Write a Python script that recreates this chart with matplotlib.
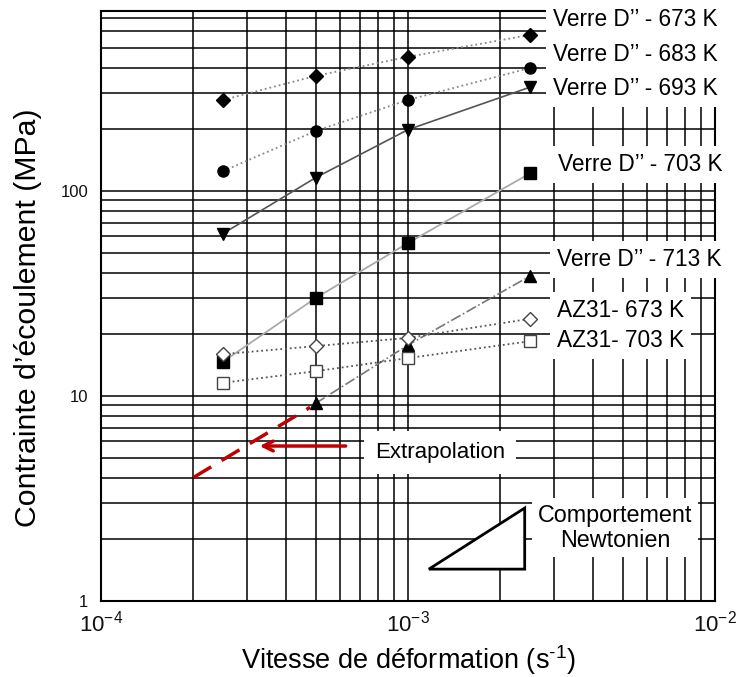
import matplotlib
matplotlib.use("Agg")
import matplotlib.pyplot as plt
from matplotlib.ticker import FixedLocator, FuncFormatter
from matplotlib.patches import Polygon

plt.rcParams['font.family'] = ['Liberation Sans', 'DejaVu Sans']
plt.rcParams['mathtext.fontset'] = 'custom'
plt.rcParams['mathtext.rm'] = 'Liberation Sans'
plt.rcParams['mathtext.it'] = 'Liberation Sans:italic'

# strain rates (s^-1)
rates = [2.5e-4, 5e-4, 1e-3, 2.5e-3]
rates_713 = [5e-4, 1e-3, 2.5e-3]

# flow stress (MPa)
verre_673 = [278, 364, 451, 577]
verre_683 = [125, 196, 278, 398]
verre_693 = [62, 116, 199, 321]
verre_703 = [14.7, 30, 55.7, 122]
verre_713 = [9.2, 17.7, 38.5]
az31_673 = [16.0, 17.5, 19.2, 23.8]
az31_703 = [11.6, 13.2, 15.3, 18.5]

labels = ["Verre D’’ - 673 K", "Verre D’’ - 683 K", "Verre D’’ - 693 K",
          "Verre D’’ - 703 K", "Verre D’’ - 713 K", "AZ31- 673 K", "AZ31- 703 K"]

# extrapolation line and Newtonian slope triangle
extrap_x = [2.0e-4, 4.8e-4]
extrap_y = [4.0, 8.8]
tri_x = [1.17e-3, 2.40e-3, 2.40e-3]
tri_y = [1.43, 2.84, 1.43]

fig = plt.figure(figsize=(7.42, 6.77), dpi=100)
ax = fig.add_axes([0.136, 0.1123, 0.8276, 0.8715])
ax.set_xscale('log')
ax.set_yscale('log')
ax.set_xlim(1e-4, 1e-2)
ax.set_ylim(1, 755)

ax.grid(which='both', color='black', linewidth=1.1, zorder=0)
ax.set_axisbelow(True)
ax.tick_params(which='both', length=0, colors='#111111')
ax.tick_params(axis='y', labelsize=12, pad=9)
ax.tick_params(axis='x', labelsize=16, pad=7)
ax.yaxis.set_major_locator(FixedLocator([1, 10, 100]))
ax.yaxis.set_major_formatter(FuncFormatter(lambda v, p: f"{int(round(v))}"))
for s in ax.spines.values():
    s.set_linewidth(1.5)

ms = 8
ax.plot(rates, verre_673, linestyle=':', color='#888888', lw=1.3, marker='D', ms=7.5, mfc='black', mec='black', zorder=3)
ax.plot(rates, verre_683, linestyle=':', color='#888888', lw=1.3, marker='o', ms=ms, mfc='black', mec='black', zorder=3)
ax.plot(rates, verre_693, linestyle='-', color='#555555', lw=1.2, marker='v', ms=ms+1, mfc='black', mec='black', zorder=3)
ax.plot(rates, verre_703, linestyle='-', color='#aaaaaa', lw=1.3, marker='s', ms=ms, mfc='black', mec='black', zorder=3)
ax.plot(rates_713, verre_713, linestyle='-.', color='#777777', lw=1.2, marker='^', ms=ms, mfc='black', mec='black', zorder=3)
ax.plot(rates, az31_673, linestyle=':', color='#555555', lw=1.3, marker='D', ms=7.5, mfc='white', mec='#444444', mew=1.0, zorder=3)
ax.plot(rates, az31_703, linestyle=':', color='#555555', lw=1.3, marker='s', ms=ms, mfc='white', mec='#444444', mew=1.0, zorder=3)

ax.plot(extrap_x, extrap_y, color='#c00000', lw=2.5, dashes=(6, 3.5), zorder=4)
ax.annotate('', xy=(3.22e-4, 5.7), xytext=(6.4e-4, 5.7),
            arrowprops=dict(arrowstyle='->,head_length=0.7,head_width=0.35', color='#c00000', lw=2.5),
            zorder=4)

tri = Polygon(list(zip(tri_x, tri_y)), closed=True, fill=True, facecolor='white',
              edgecolor='black', lw=2, zorder=4)
ax.add_patch(tri)

box = dict(facecolor='white', edgecolor='none', pad=5)
lab_pos = [(0.736, 0.985), (0.736, 0.927), (0.736, 0.869), (0.744, 0.739),
           (0.743, 0.578), (0.743, 0.492), (0.743, 0.441)]
for (xf, yf), t in zip(lab_pos, labels):
    ax.text(xf, yf, t, transform=ax.transAxes, fontsize=16.3, ha='left', va='center',
            bbox=box, clip_on=False, zorder=5)

ax.text(1.27e-3, 5.3, 'Extrapolation', fontsize=16, ha='center', va='center',
        bbox=dict(facecolor='white', edgecolor='none', pad=8), zorder=5)
ax.text(0.837, 0.124, 'Comportement\nNewtonien', transform=ax.transAxes, fontsize=16.8,
        ha='center', va='center', linespacing=1.1,
        bbox=dict(facecolor='white', edgecolor='none', pad=4), zorder=5)

ax.set_xlabel('Vitesse de déformation (s$^{\\text{-}1}$)', fontsize=19.5, labelpad=5)
ax.set_ylabel('Contrainte d’écoulement (MPa)', fontsize=21.8)
ax.yaxis.set_label_coords(-0.096, 0.48)

fig.savefig('out.png', dpi=100)
